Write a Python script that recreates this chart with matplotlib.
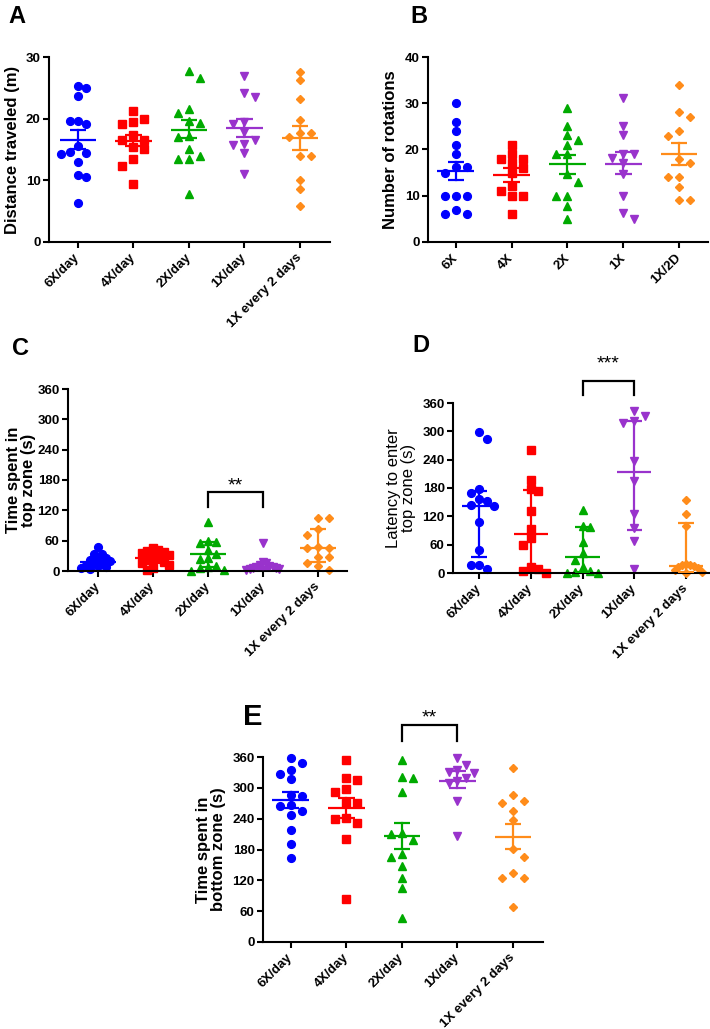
import numpy as np
import matplotlib
matplotlib.use("Agg")
import matplotlib.pyplot as plt

plt.rcParams['font.family'] = ['Liberation Sans', 'DejaVu Sans']

# ---------------- data ----------------
groups_long = ["6X/day", "4X/day", "2X/day", "1X/day", "1X every 2 days"]
groups_short = ["6X", "4X", "2X", "1X", "1X/2D"]
colors = ["#0000FF", "#FF0000", "#00AA00", "#9933CC", "#FF8C1A"]
markers = ["o", "s", "^", "v", "D"]

# A: distance traveled (m) – mean ± SEM
distance = [
    [25.0, 25.35, 23.7, 19.7, 19.6, 19.1, 15.6, 14.5, 14.6, 14.3, 13.0, 10.8, 10.5, 6.4],
    [21.2, 19.9, 19.5, 19.1, 17.3, 16.5, 16.6, 15.4, 15.1, 13.5, 12.3, 9.4],
    [27.7, 26.6, 21.5, 20.9, 19.7, 19.3, 17.2, 17.0, 15.0, 14.0, 13.5, 13.5, 7.8],
    [27.0, 24.2, 23.5, 19.5, 19.2, 17.8, 16.5, 15.9, 15.7, 14.4, 11.1],
    [27.6, 26.2, 23.2, 19.8, 17.7, 17.7, 17.0, 13.9, 13.9, 10.1, 8.6, 5.8],
]
distance_center = [16.6, 16.4, 18.2, 18.5, 16.9]
distance_upper = [18.2, 17.3, 19.8, 20.0, 18.8]
distance_lower = [15.1, 15.5, 16.8, 17.0, 14.9]

# B: number of rotations – mean ± SEM
rotations = [
    [30, 26, 24, 21, 19, 16.2, 16.2, 14.9, 10, 10, 10, 7, 6, 6],
    [21, 19, 18, 18, 17, 16, 15, 12, 11, 10, 10, 6],
    [29, 25, 23.1, 22, 20.9, 19.1, 19, 14.8, 13, 10, 10, 7.8, 4.9],
    [31.1, 25.1, 23.1, 19.1, 19.1, 18.2, 17.1, 14.8, 10, 6.3, 5],
    [34, 28, 27, 24, 23, 18, 17.1, 14.1, 14.1, 11.9, 9, 9],
]
rotations_center = [15.4, 14.5, 16.8, 16.9, 19.0]
rotations_upper = [17.4, 15.9, 18.9, 19.5, 21.4]
rotations_lower = [13.3, 13.0, 14.8, 14.6, 16.7]

# C: time in top zone (s) – median with IQR
top_time = [
    [47, 34, 34, 27, 25, 22, 20, 17, 14, 12, 10, 8, 6, 3],
    [45, 42, 40, 38, 35, 32, 28, 25, 22, 18, 15, 12, 5, 2],
    [96, 60, 58, 55, 42, 33, 25, 24, 10, 8, 5, 1, 0],
    [55, 18, 15, 12, 10, 8, 7, 6, 5, 4, 3, 2],
    [105, 105, 84, 71, 47, 46, 45, 28, 27, 16, 9, 1],
]
top_time_center = [18, 25, 33, 7, 46]
top_time_upper = [28, 36, 57, 13, 83]
top_time_lower = [8, 15, 8, 3, 17]

# D: latency to enter top zone (s) – median with IQR
latency = [
    [299, 284, 177, 170, 156, 152, 144, 142, 107, 49, 18, 17, 8],
    [260, 198, 178, 174, 132, 93, 75, 60, 13, 9, 5, 0],
    [133, 99, 97, 66, 43, 28, 12, 5, 3, 0, 0],
    [343, 332, 321, 318, 238, 195, 126, 95, 68, 8],
    [155, 126, 100, 20, 18, 16, 15, 13, 10, 6, 3, 1],
]
latency_center = [142, 83, 33, 213, 15]
latency_upper = [173, 176, 97, 321, 105]
latency_lower = [34, 7, 3, 91, 2]

# E: time in bottom zone (s) – mean ± SEM
bottom_time = [
    [359, 349, 335, 327, 317, 287, 284, 267, 265, 254, 248, 218, 191, 163],
    [355, 319, 315, 297, 291, 271, 270, 242, 239, 231, 200, 84],
    [355, 322, 320, 291, 213, 211, 198, 171, 166, 148, 125, 106, 46],
    [359, 344, 335, 331, 328, 319, 314, 310, 274, 206],
    [339, 286, 275, 270, 254, 237, 181, 166, 134, 125, 125, 69],
]
bottom_time_center = [276, 260, 207, 313, 205]
bottom_time_upper = [291, 281, 232, 333, 230]
bottom_time_lower = [261, 241, 181, 299, 181]

# ---------------- helpers ----------------
W, H = 710, 1029
fig = plt.figure(figsize=(W / 100, H / 100), dpi=100)


def rect(left, top, right, bottom):
    return [left / W, 1 - bottom / H, (right - left) / W, (bottom - top) / H]


def scatter_offsets(ax, xc, values, step_px=11.0, d_px=8.5, max_units=0.30):
    """Lattice-based column scatter (GraphPad-like), computed from the values."""
    pts = ax.transData.transform(np.column_stack([np.full(len(values), xc), values]))
    ys = pts[:, 1]
    order = np.argsort(-ys, kind='stable')
    placed = []
    offs = np.zeros(len(values))
    flip = 1
    for i in order:
        y = ys[i]
        neigh = [(px, py) for px, py in placed if abs(py - y) < d_px]
        chosen = None
        for k in range(0, 12):
            if k == 0:
                cands = [0.0]
            else:
                cands = [flip * k * step_px, -flip * k * step_px]
            for c in cands:
                if all((c - px) ** 2 + (y - py) ** 2 >= d_px ** 2 for px, py in neigh):
                    chosen = c
                    break
            if chosen is not None:
                if chosen != 0:
                    flip = -np.sign(chosen)
                break
        offs[i] = chosen if chosen is not None else 0.0
        placed.append((offs[i], y))
    x0 = ax.transData.transform((0, 0))[0]
    x1 = ax.transData.transform((1, 0))[0]
    offs = offs / (x1 - x0)
    m = np.max(np.abs(offs))
    if m > max_units:
        offs *= max_units / m
    return offs


msizes = {"o": 5.6, "s": 5.2, "^": 6.2, "v": 6.2, "D": 4.4}


def panel(box, data, center, upper, lower, ylim, yticks, xlabels, ylabel,
          xlim=(-0.52, 4.54), ylabel_x=-0.11, ylabel_weight='bold'):
    ax = fig.add_axes(rect(*box))
    ax.set_xlim(*xlim)
    ax.set_ylim(*ylim)
    for i, vals in enumerate(data):
        offs = scatter_offsets(ax, i, vals)
        ax.plot(i + offs, vals, linestyle='none', marker=markers[i],
                ms=msizes[markers[i]], color=colors[i], mec=colors[i],
                zorder=2, clip_on=False)
        c = colors[i]
        ax.plot([i - 0.33, i + 0.33], [center[i]] * 2, color=c, lw=1.6, zorder=3,
                solid_capstyle='butt')
        ax.plot([i, i], [lower[i], upper[i]], color=c, lw=1.6, zorder=3)
        for v in (lower[i], upper[i]):
            ax.plot([i - 0.15, i + 0.15], [v, v], color=c, lw=1.6, zorder=3,
                    solid_capstyle='butt')
    ax.spines['top'].set_visible(False)
    ax.spines['right'].set_visible(False)
    for s in ('left', 'bottom'):
        ax.spines[s].set_linewidth(1.5)
    ax.set_yticks(yticks)
    ax.set_yticklabels([str(t) for t in yticks], fontsize=9.5, fontweight='bold')
    ax.set_xticks(range(len(xlabels)))
    ax.set_xticklabels(xlabels, fontsize=9.5, fontweight='bold', rotation=45,
                       ha='right', va='center', rotation_mode='anchor')
    ax.tick_params(axis='both', width=1.5, length=4, pad=2)
    ax.tick_params(axis='x', pad=6)
    ax.set_ylabel(ylabel, fontsize=12, fontweight=ylabel_weight, linespacing=1.0)
    ax.yaxis.set_label_coords(ylabel_x, 0.5)
    return ax


def bracket(ax, x0, x1, leg, top, stars, star_y):
    ax.plot([x0, x0, x1, x1], [leg, top, top, leg], color='black', lw=1.6,
            clip_on=False, solid_joinstyle='miter')
    ax.text((x0 + x1) / 2, star_y, stars, ha='center', va='center', fontsize=14,
            clip_on=False)


# A
axA = panel((49, 57, 330, 242), distance, distance_center, distance_upper, distance_lower,
            (0, 30), [0, 10, 20, 30], groups_long, "Distance traveled (m)",
            xlim=(-0.52, 4.54), ylabel_x=-0.103)
# B
axB = panel((428, 57, 708, 242), rotations, rotations_center, rotations_upper, rotations_lower,
            (0, 40), [0, 10, 20, 30, 40], groups_short, "Number of rotations",
            xlim=(-0.50, 4.52), ylabel_x=-0.107)
# C
axC = panel((68, 389, 347, 571), top_time, top_time_center, top_time_upper, top_time_lower,
            (0, 360), list(range(0, 361, 60)), groups_long, "Time spent in\ntop zone (s)",
            xlim=(-0.545, 4.53), ylabel_x=-0.115)
bracket(axC, 2, 3, 127, 157, "**", 168)
# D
axD = panel((453, 403, 710, 573), latency, latency_center, latency_upper, latency_lower,
            (0, 360), list(range(0, 361, 60)), groups_long, "Latency to enter\ntop zone (s)",
            xlim=(-0.50, 4.46), ylabel_x=-0.144, ylabel_weight='normal')
bracket(axD, 2, 3, 377, 407, "***", 443)
# E
axE = panel((263, 757, 543, 942), bottom_time, bottom_time_center, bottom_time_upper,
            bottom_time_lower, (0, 360), list(range(0, 361, 60)), groups_long,
            "Time spent in\nbottom zone (s)", xlim=(-0.50, 4.54), ylabel_x=-0.132)
bracket(axE, 2, 3, 391, 422, "**", 435)

# panel letters
for letter, x, y, size in [("A", 8, 23, 17), ("B", 410, 23, 17), ("C", 12, 355, 17),
                           ("D", 412, 352, 17), ("E", 243, 725, 21)]:
    fig.text(x / W, 1 - y / H, letter, fontsize=size, fontweight='bold',
             ha='left', va='baseline')

fig.savefig("out.png", dpi=100)
